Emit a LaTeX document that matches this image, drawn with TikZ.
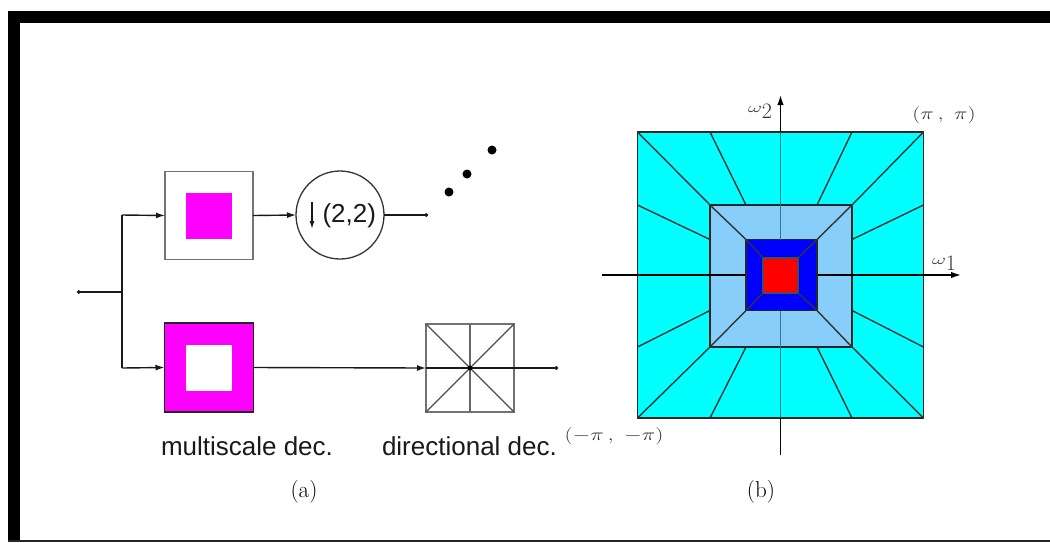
\documentclass[tikz,border=0pt]{standalone}
\usepackage{fontspec}
\usepackage{graphicx}
\newfontfamily\helv{Liberation Sans}
\usetikzlibrary{arrows.meta,calc}
\definecolor{midblue}{RGB}{135,206,250}
\definecolor{cyanfill}{RGB}{0,255,255}
\definecolor{magfill}{RGB}{255,0,255}
\definecolor{bluefill}{RGB}{0,0,255}
\definecolor{redfill}{RGB}{255,0,0}
\definecolor{cyanline}{RGB}{0,125,135}
\definecolor{midline}{RGB}{65,110,150}
\tikzset{
  sq/.style={rectangle,inner sep=0pt,outer sep=0pt,minimum width=#1,minimum height=#1},
  box/.style={sq=#1,draw=black!55,line width=1.3pt},
  wire/.style={line width=1.4pt,black!90},
  arr/.style={wire,-{Latex[length=9pt,width=6pt]}},
  dotend/.style={wire,-{Circle[length=3.5pt,width=3.5pt]}},
  ray/.style={line width=1.4pt,black!80},
  axis/.style={line width=1.5pt,black},
  lab/.style={inner sep=0pt,outer sep=0pt,font=\helv\fontsize{26}{28}\selectfont,text=black!90},
  captxt/.style={inner sep=0pt,outer sep=0pt,font=\fontsize{23}{25}\selectfont,text=black},
  mathlab/.style={inner sep=0pt,outer sep=0pt,text=black!80},
  blob/.style={circle,fill=black,inner sep=0pt,minimum size=9pt},
}
\newcommand{\omegalab}[1]{\raisebox{5.5pt}{\scalebox{1.5}[1]{\fontsize{14}{14}\selectfont$\omega$}}{\fontsize{22}{22}\selectfont #1}}
\newcommand{\widemath}[1]{\scalebox{1.32}[1]{\fontsize{17}{17}\selectfont$#1$}}
\begin{document}
\begin{tikzpicture}[x=1pt,y=-1pt]
\useasboundingbox (0,0) rectangle (1050,542);
% frame
\fill[black] (8,11) rectangle (1050,23);
\fill[black] (8,11) rectangle (20,542);
\fill[black!85] (8,540) rectangle (1050,542);
% (a) branch nodes
\coordinate (in) at (77,292);
\coordinate (split) at (122,292);
\coordinate (upbend) at (122,215);
\coordinate (lowbend) at (122,368);
\node[box=88pt,fill=white] (low) at (209,215.5) {};
\node[sq=46pt,fill=magfill] (lowin) at (209,216) {};
\node[box=89pt,fill=magfill,draw=black!85] (high) at (209,367.5) {};
\node[sq=46pt,fill=white] (highin) at (209,367.5) {};
\node[circle,draw=black!80,line width=1.3pt,minimum size=88pt,inner sep=0pt,outer sep=0pt] (down) at (340,215) {};
\node[lab,anchor=west] (ratio) at (322.5,216) {(2,2)};
\coordinate (arrowtop) at (312,202);
\coordinate (arrowbot) at (312,229);
\coordinate (lowout) at (428,215);
\node[box=88pt] (dir) at (470,368) {};
\coordinate (dirout) at (558,368);
\node[blob] (d1) at (449,192) {};
\node[blob] (d2) at (467,174) {};
\node[blob] (d3) at (492,150) {};
% (a) connectors
\draw[dotend] (split) -- (in);
\draw[wire] (lowbend) -- (upbend);
\draw[arr] (upbend) -- (low.west);
\draw[arr] (lowbend) -- (high.west);
\draw[arr] (low.east) -- (down.west);
\draw[dotend] (down.east) -- (lowout);
\draw[arr] (high.east) -- (dir.west);
\draw[line width=1.3pt,black!60] (dir.north) -- (dir.south);
\draw[line width=1.3pt,black!70] (dir.north west) -- (dir.south east);
\draw[line width=1.3pt,black!70] (dir.north east) -- (dir.south west);
\draw[dotend] (dir.west) -- (dirout);
\fill[black] (dir.center) circle (2.5pt);
\draw[wire,-{Latex[length=8pt,width=5pt]}] (arrowtop) -- (arrowbot);
\node[lab,anchor=base west] (ms) at (161,455) {multiscale dec.};
\node[lab,anchor=base west] (dd) at (382,455) {directional dec.};
\node[captxt] (capa) at (304,492) {(a)};
\node[captxt] (capb) at (761,492) {(b)};
% (b) squares
\node[sq=286pt,fill=cyanfill,draw=black!85,line width=1.5pt] (o) at (780.5,275) {};
\node[sq=142pt,fill=midblue,draw=black!85,line width=1.5pt] (m) at (781,276) {};
\coordinate (ml) at (602,275);
\coordinate (mr) at (961,275);
\coordinate (mt) at (780.5,95);
\coordinate (mb) at (780.5,455);
% axes
\draw[axis] (ml) -- (o.west);
\draw[axis,-{Latex[length=10pt,width=6.5pt]}] (o.east) -- (mr);
\draw[axis,-{Latex[length=10pt,width=6.5pt]}] (o.north) -- (mt);
\draw[axis] (o.south) -- (mb);
\draw[axis] (o.west) -- (m.east |- o.west);
\draw[axis] (m.east |- o.east) -- (o.east);
% central column
\node[sq=71pt,fill=bluefill,draw=black!85,line width=1.5pt] (b) at (781.5,275) {};
\node[sq=35pt,fill=redfill,draw=black!70,line width=1.3pt] (r) at (780.5,275.5) {};
\draw[line width=1.5pt,cyanline] (o.north) -- (o.north |- m.north);
\draw[line width=1.5pt,cyanline] (o.south) -- (o.south |- m.south);
\draw[line width=1.5pt,midline] (o.north |- m.north) -- (o.north |- b.north);
\draw[line width=1.5pt,midline] (o.south |- m.south) -- (o.south |- b.south);
% radial lines
\foreach \c in {north west,north east,south west,south east}{
  \draw[ray] (o.\c) -- (m.\c);
  \draw[ray] (m.\c) -- (b.\c);
  \draw[ray] (b.\c) -- (r.\c);
}
\draw[ray] (o.north west -| m.west) -- (b.west |- m.north);
\draw[ray] (o.north east -| m.east) -- (b.east |- m.north);
\draw[ray] (o.south west -| m.west) -- (b.west |- m.south);
\draw[ray] (o.south east -| m.east) -- (b.east |- m.south);
\draw[ray] (o.west |- m.north) -- (m.west |- b.north);
\draw[ray] (o.west |- m.south) -- (m.west |- b.south);
\draw[ray] (o.east |- m.north) -- (m.east |- b.north);
\draw[ray] (o.east |- m.south) -- (m.east |- b.south);
% (b) labels
\node[mathlab,anchor=base west] (w2) at (748,118) {\omegalab{2}};
\node[mathlab,anchor=base west] (w1) at (932,270) {\omegalab{1}};
\node[mathlab] (pp) at (944,115) {\widemath{(\pi\,,\;\pi)}};
\node[mathlab] (mm) at (614,436) {\widemath{(-\pi\,,\;-\pi)}};
\end{tikzpicture}
\end{document}
